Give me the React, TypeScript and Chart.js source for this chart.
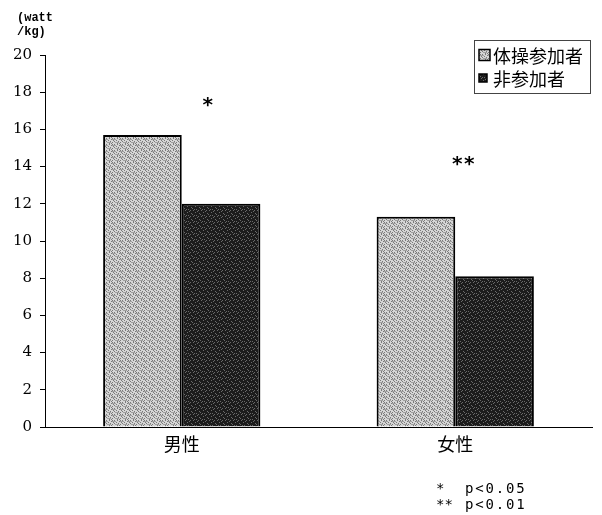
import React, { useEffect, useRef } from 'react';
import { Chart, registerables } from 'chart.js';
Chart.register(...registerables);

const categories = ['男性', '女性'];
const seriesNames = ['体操参加者', '非参加者'];
const participants = [15.7, 11.3];
const nonParticipants = [12.0, 8.1];
const yMin = 0;
const yMax = 20;
const yStep = 2;
const yTitleLines = ['(watt', '/kg)'];
const sigMarks = ['*', '**'];
const sigValues = [17.5, 14.3];
const footMarks = ['*', '**'];
const footTexts = ['p<0.05', 'p<0.01'];

function makePattern(kind: 'light' | 'dark'): CanvasPattern | string {
  const c = document.createElement('canvas');
  c.width = 8;
  c.height = 6;
  const g = c.getContext('2d');
  if (!g) return kind === 'light' ? '#c0c0c0' : '#202020';
  if (kind === 'light') {
    g.fillStyle = '#d6d6d6';
    g.fillRect(0, 0, 8, 6);
    g.fillStyle = '#7a7a7a';
    const pts = [[0, 0], [2, 0], [5, 0], [7, 1], [1, 2], [4, 2], [6, 3], [3, 4], [0, 4], [5, 5], [2, 3], [7, 5]];
    pts.forEach(([x, y]) => g.fillRect(x, y, 1, 1));
    g.fillStyle = '#a0a0a0';
    g.fillRect(0, 1, 4, 1);
    g.fillRect(3, 4, 4, 1);
  } else {
    g.fillStyle = '#1c1c1c';
    g.fillRect(0, 0, 8, 6);
    g.fillStyle = '#6a6a6a';
    const pts = [[1, 0], [5, 1], [3, 2], [7, 3], [0, 4], [4, 5], [6, 0], [2, 5]];
    pts.forEach(([x, y]) => g.fillRect(x, y, 1, 1));
  }
  const p = g.createPattern(c, 'repeat');
  return p || (kind === 'light' ? '#c0c0c0' : '#202020');
}

export default function App() {
  const ref = useRef<HTMLCanvasElement | null>(null);

  useEffect(() => {
    document.body.style.margin = '0';
    const canvas = ref.current;
    if (!canvas) return;
    const light = makePattern('light');
    const dark = makePattern('dark');

    const overlay = {
      id: 'overlay',
      afterDraw(chart: any) {
        const ctx = chart.ctx as CanvasRenderingContext2D;
        const xs = chart.scales.x;
        const ys = chart.scales.y;
        ctx.save();
        // y title
        ctx.fillStyle = '#000';
        ctx.font = 'bold 12px "Liberation Mono", monospace';
        ctx.textBaseline = 'middle';
        ctx.textAlign = 'left';
        ctx.fillText(yTitleLines[0], 17, 18);
        ctx.fillText(yTitleLines[1], 17, 32);
        // significance marks
        ctx.font = 'bold 20px "DejaVu Sans Mono", monospace';
        ctx.textAlign = 'center';
        const offsets = [26, 8];
        sigMarks.forEach((m, i) => {
          ctx.fillText(m, xs.getPixelForValue(i) + offsets[i], ys.getPixelForValue(sigValues[i]) + 4);
        });
        // legend
        const lx = 474, ly = 40, lw = 116, lh = 53;
        ctx.strokeStyle = '#444';
        ctx.lineWidth = 1;
        ctx.strokeRect(lx + 0.5, ly + 0.5, lw, lh);
        const fills = [light, dark];
        ctx.font = '18px "Noto Sans CJK JP", sans-serif';
        ctx.textAlign = 'left';
        seriesNames.forEach((n, i) => {
          const cy = ly + 15 + i * 23;
          const s = i === 0 ? 11 : 8;
          ctx.fillStyle = fills[i] as any;
          ctx.fillRect(lx + 5, cy - s / 2, s, s);
          ctx.strokeStyle = '#000';
          ctx.lineWidth = 1.5;
          ctx.strokeRect(lx + 5, cy - s / 2, s, s);
          ctx.fillStyle = '#000';
          ctx.fillText(n, lx + 19, cy + 1);
        });
        // footnotes
        ctx.font = '14px "DejaVu Sans Mono", monospace';
        footMarks.forEach((m, i) => {
          const cy = 489 + i * 16;
          (ctx as any).letterSpacing = '0px';
          ctx.fillText(m, 436, cy);
          (ctx as any).letterSpacing = '1.8px';
          ctx.fillText(footTexts[i], 465, cy);
        });
        (ctx as any).letterSpacing = '0px';
        ctx.restore();
      },
    };

    const chart = new Chart(canvas, {
      type: 'bar',
      data: {
        labels: categories,
        datasets: [
          {
            label: seriesNames[0],
            data: participants,
            backgroundColor: light as any,
            borderColor: '#000',
            borderWidth: 2,
          },
          {
            label: seriesNames[1],
            data: nonParticipants,
            backgroundColor: dark as any,
            borderColor: '#000',
            borderWidth: 2,
          },
        ],
      },
      options: {
        responsive: false,
        animation: false,
        layout: { padding: { left: 0, top: 55, right: 10, bottom: 0 } },
        datasets: { bar: { categoryPercentage: 0.575, barPercentage: 1 } },
        plugins: { legend: { display: false }, tooltip: { enabled: false } },
        scales: {
          x: {
            grid: { display: false },
            border: { color: '#000', width: 1 },
            ticks: {
              color: '#000',
              padding: -2,
              font: { family: '"Noto Sans CJK JP", sans-serif', size: 18 },
            },
            afterFit: (s: any) => { s.height = 88; },
          },
          y: {
            min: yMin,
            max: yMax,
            grid: { drawOnChartArea: false, drawTicks: true, tickLength: 5, color: '#000' },
            border: { color: '#000', width: 1 },
            ticks: {
              stepSize: yStep,
              color: '#000',
              padding: 8,
              font: { family: '"DejaVu Serif", serif', size: 15 },
            },
            afterFit: (s: any) => { s.width = 45; },
          },
        },
      },
      plugins: [overlay],
    });
    return () => chart.destroy();
  }, []);

  return (
    <div style={{ width: 602, height: 515, background: '#fff' }}>
      <canvas ref={ref} width={602} height={515} style={{ display: 'block' }} />
    </div>
  );
}
